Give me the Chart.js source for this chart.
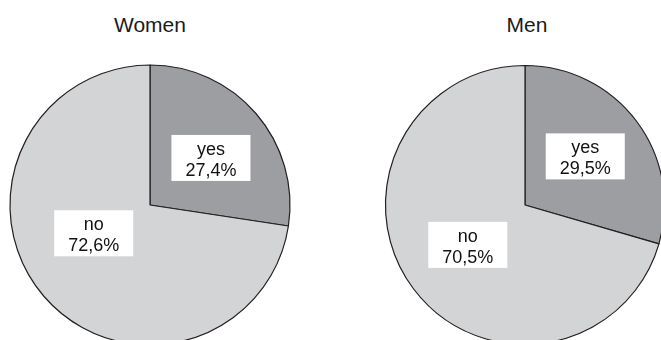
<!DOCTYPE html>
<html lang="en">
<head>
    <meta charset="UTF-8">
    <title>Women / Men</title>
    <script src="https://cdn.jsdelivr.net/npm/chart.js"></script>
    <style>
        html, body { margin: 0; padding: 0; background: #fff; width: 661px; height: 340px; overflow: hidden; }
        body { position: relative; font-family: "Liberation Sans", Arial, sans-serif; }
        .title { position: absolute; top: 14px; width: 300px; text-align: center; font-size: 21px; line-height: 21px; color: #1a1a1a; }
        canvas { position: absolute; }
    </style>
</head>
<body>
    <div class="title" style="left:0px">Women</div>
    <div class="title" style="left:377px">Men</div>
    <canvas id="women" width="290" height="290" style="left:5px; top:60px"></canvas>
    <canvas id="men" width="290" height="290" style="left:380px; top:60px"></canvas>

    <script>
        // data
        const labels = ['yes', 'no'];
        const women = [27.4, 72.6];
        const men = [29.5, 70.5];
        const colors = ['#9d9ea2', '#d3d4d6'];
        // where the label boxes sit: fraction of the radius, and a small turn (degrees) off the slice middle
        const womenLabelR = [0.55, 0.45];
        const womenLabelTurn = [3, 14];
        const menLabelR = [0.555, 0.5];
        const menLabelTurn = [-2, 2];

        // draws the white boxes with "yes / 27,4%"
        const boxLabels = {
            id: 'boxLabels',
            afterDatasetsDraw(chart, args, opts) {
                const ctx = chart.ctx;
                const values = chart.data.datasets[0].data;
                chart.getDatasetMeta(0).data.forEach((arc, i) => {
                    const p = arc.getProps(['x', 'y', 'startAngle', 'endAngle', 'outerRadius'], true);
                    const mid = (p.startAngle + p.endAngle) / 2 + opts.turn[i] * Math.PI / 180;
                    const cx = p.x + Math.cos(mid) * p.outerRadius * opts.r[i];
                    const cy = p.y + Math.sin(mid) * p.outerRadius * opts.r[i];
                    const line1 = labels[i];
                    const line2 = values[i].toFixed(1).replace('.', ',') + '%';
                    ctx.save();
                    ctx.font = '18px "Liberation Sans", Arial, sans-serif';
                    const w = Math.max(ctx.measureText(line1).width, ctx.measureText(line2).width) + 28;
                    const h = 46;
                    const top = cy - h / 2;
                    ctx.fillStyle = '#fff';
                    ctx.fillRect(cx - w / 2, top, w, h);
                    ctx.fillStyle = '#111';
                    ctx.textAlign = 'center';
                    ctx.textBaseline = 'alphabetic';
                    ctx.fillText(line1, cx, top + 20);
                    ctx.fillText(line2, cx, top + 41);
                    ctx.restore();
                });
            }
        };

        function makePie(id, values, radius, labelR, labelTurn) {
            return new Chart(document.getElementById(id), {
                type: 'pie',
                data: {
                    labels: labels,
                    datasets: [{
                        data: values,
                        backgroundColor: colors,
                        borderColor: '#231f20',
                        borderWidth: 1.2
                    }]
                },
                options: {
                    responsive: false,
                    animation: false,
                    radius: radius,
                    layout: { padding: 0 },
                    plugins: {
                        legend: { display: false },
                        tooltip: { enabled: false },
                        boxLabels: { r: labelR, turn: labelTurn }
                    }
                },
                plugins: [boxLabels]
            });
        }

        makePie('women', women, 140, womenLabelR, womenLabelTurn);
        makePie('men', men, 139.5, menLabelR, menLabelTurn);
    </script>
</body>
</html>
